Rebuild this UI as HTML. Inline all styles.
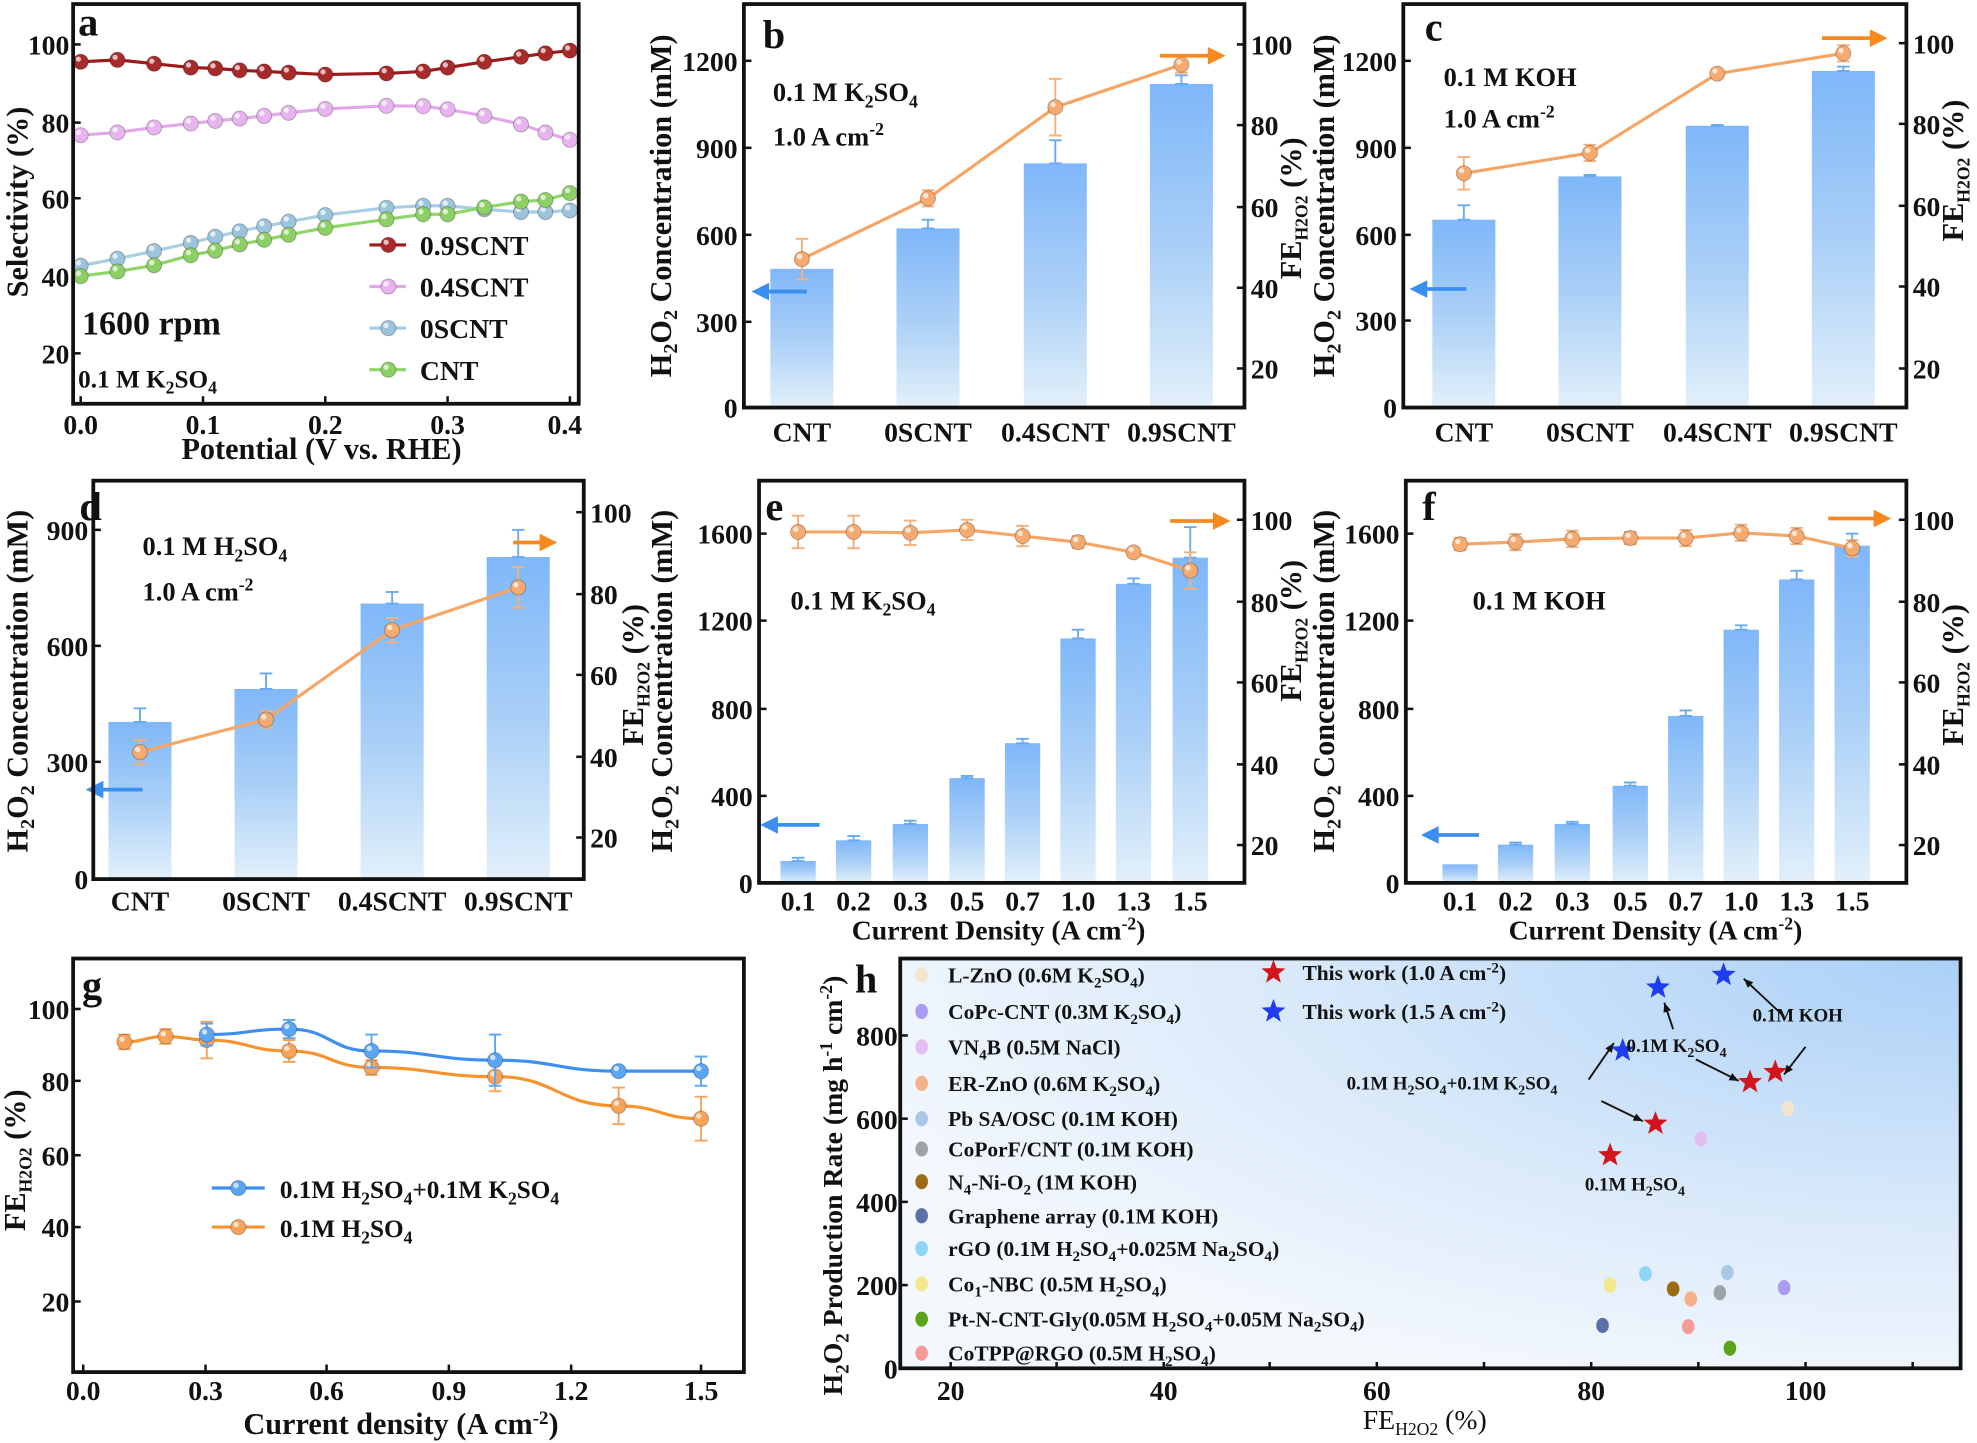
<!DOCTYPE html>
<html><head><meta charset="utf-8"><style>
html,body{margin:0;padding:0;background:#fff}
svg{display:block}
text{font-family:"Liberation Serif",serif;font-weight:bold;fill:#111}
.t{font-size:22px}
.ti{font-size:24px}
.h{font-weight:normal;font-size:17px}
</style></head><body>
<svg id="s" width="1977" height="1443" viewBox="0 0 1568 1144" xmlns="http://www.w3.org/2000/svg">
<defs>
<linearGradient id="bar" x1="0" y1="0" x2="0" y2="1"><stop offset="0" stop-color="#7fb7f9"/><stop offset="0.5" stop-color="#a9cff7"/><stop offset="1" stop-color="#e2f0fa"/></linearGradient>
<radialGradient id="hbg" cx="1" cy="0" r="1.1"><stop offset="0" stop-color="#aad0f7"/><stop offset="0.6" stop-color="#dbeafa"/><stop offset="1" stop-color="#f3f8fd"/></radialGradient>
</defs>
<rect x="714" y="760" width="841" height="325" fill="url(#hbg)"/>
<g id="d"></g>
<g fill="none" stroke="#111" stroke-width="3">
<rect x="58" y="3" width="401" height="317"/>
<rect x="590" y="3" width="397" height="320"/>
<rect x="1113" y="3" width="399" height="320"/>
<rect x="74" y="381" width="389" height="316"/>
<rect x="602" y="381" width="385" height="319"/>
<rect x="1115" y="381" width="397" height="319"/>
<rect x="58" y="760" width="532" height="328"/>
<rect x="714" y="760" width="841" height="325"/>
</g>
<!-- panel a -->
<text x="62" y="28" style="font-size:32px">a</text>
<g class="t" text-anchor="end"><text x="55" y="43">100</text><text x="55" y="105">80</text><text x="55" y="165">60</text><text x="55" y="227">40</text><text x="55" y="288">20</text></g>
<g class="t" text-anchor="middle"><text x="64" y="344">0.0</text><text x="161" y="344">0.1</text><text x="258" y="344">0.2</text><text x="355" y="344">0.3</text><text x="448" y="344">0.4</text></g>
<text class="ti" x="255" y="364" text-anchor="middle">Potential (V vs. RHE)</text>
<text class="ti" transform="translate(22,160) rotate(-90)" text-anchor="middle">Selectivity (%)</text>
<text x="65" y="265" style="font-size:27px">1600 rpm</text>
<text x="62" y="307" style="font-size:20px">0.1 M K<tspan dy="5" font-size="14">2</tspan><tspan dy="-5">SO</tspan><tspan dy="5" font-size="14">4</tspan></text>
<g class="t"><text x="333" y="202">0.9SCNT</text><text x="333" y="235">0.4SCNT</text><text x="333" y="268">0SCNT</text><text x="333" y="301">CNT</text></g>
<!-- panel b -->
<text x="605" y="38" style="font-size:32px">b</text>
<g class="t" text-anchor="end"><text x="585" y="331">0</text><text x="585" y="263">300</text><text x="585" y="194">600</text><text x="585" y="125">900</text><text x="585" y="56">1200</text></g>
<g class="t"><text x="992" y="300">20</text><text x="992" y="236">40</text><text x="992" y="172">60</text><text x="992" y="107">80</text><text x="992" y="43">100</text></g>
<g class="t" text-anchor="middle"><text x="636" y="350">CNT</text><text x="736" y="350">0SCNT</text><text x="837" y="350">0.4SCNT</text><text x="937" y="350">0.9SCNT</text></g>
<text x="613" y="80" style="font-size:21px">0.1 M K<tspan dy="5" font-size="14">2</tspan><tspan dy="-5">SO</tspan><tspan dy="5" font-size="14">4</tspan></text>
<text x="613" y="115" style="font-size:21px">1.0 A cm<tspan dy="-8" font-size="14">-2</tspan></text>
<text class="ti" transform="translate(532,163) rotate(-90)" text-anchor="middle">H<tspan dy="5" font-size="16">2</tspan><tspan dy="-5">O</tspan><tspan dy="5" font-size="16">2</tspan><tspan dy="-5"> Concentration (mM)</tspan></text>
<text class="ti" transform="translate(1032,165) rotate(-90)" text-anchor="middle">FE<tspan dy="5" font-size="14">H2O2</tspan><tspan dy="-5"> (%)</tspan></text>
<!-- panel c -->
<text x="1130" y="32" style="font-size:32px">c</text>
<g class="t" text-anchor="end"><text x="1108" y="331">0</text><text x="1108" y="262">300</text><text x="1108" y="194">600</text><text x="1108" y="125">900</text><text x="1108" y="56">1200</text></g>
<g class="t"><text x="1517" y="300">20</text><text x="1517" y="235">40</text><text x="1517" y="171">60</text><text x="1517" y="106">80</text><text x="1517" y="42">100</text></g>
<g class="t" text-anchor="middle"><text x="1161" y="350">CNT</text><text x="1261" y="350">0SCNT</text><text x="1362" y="350">0.4SCNT</text><text x="1462" y="350">0.9SCNT</text></g>
<text x="1145" y="68" style="font-size:21px">0.1 M KOH</text>
<text x="1145" y="101" style="font-size:21px">1.0 A cm<tspan dy="-8" font-size="14">-2</tspan></text>
<text class="ti" transform="translate(1058,163) rotate(-90)" text-anchor="middle">H<tspan dy="5" font-size="16">2</tspan><tspan dy="-5">O</tspan><tspan dy="5" font-size="16">2</tspan><tspan dy="-5"> Concentration (mM)</tspan></text>
<text class="ti" transform="translate(1557,135) rotate(-90)" text-anchor="middle">FE<tspan dy="5" font-size="14">H2O2</tspan><tspan dy="-5"> (%)</tspan></text>
<!-- panel d -->
<text x="63" y="412" style="font-size:32px">d</text>
<g class="t" text-anchor="end"><text x="70" y="705">0</text><text x="70" y="612">300</text><text x="70" y="520">600</text><text x="70" y="428">900</text></g>
<g class="t"><text x="468" y="672">20</text><text x="468" y="608">40</text><text x="468" y="543">60</text><text x="468" y="479">80</text><text x="468" y="414">100</text></g>
<g class="t" text-anchor="middle"><text x="111" y="722">CNT</text><text x="211" y="722">0SCNT</text><text x="311" y="722">0.4SCNT</text><text x="411" y="722">0.9SCNT</text></g>
<text x="113" y="440" style="font-size:21px">0.1 M H<tspan dy="5" font-size="14">2</tspan><tspan dy="-5">SO</tspan><tspan dy="5" font-size="14">4</tspan></text>
<text x="113" y="476" style="font-size:21px">1.0 A cm<tspan dy="-8" font-size="14">-2</tspan></text>
<text class="ti" transform="translate(22,540) rotate(-90)" text-anchor="middle">H<tspan dy="5" font-size="16">2</tspan><tspan dy="-5">O</tspan><tspan dy="5" font-size="16">2</tspan><tspan dy="-5"> Concentration (mM)</tspan></text>
<text class="ti" transform="translate(510,535) rotate(-90)" text-anchor="middle">FE<tspan dy="5" font-size="14">H2O2</tspan><tspan dy="-5"> (%)</tspan></text>
<!-- panel e -->
<text x="607" y="412" style="font-size:32px">e</text>
<g class="t" text-anchor="end"><text x="597" y="708">0</text><text x="597" y="639">400</text><text x="597" y="570">800</text><text x="597" y="500">1200</text><text x="597" y="431">1600</text></g>
<g class="t"><text x="992" y="678">20</text><text x="992" y="614">40</text><text x="992" y="549">60</text><text x="992" y="485">80</text><text x="992" y="420">100</text></g>
<g class="t" text-anchor="middle"><text x="633" y="722">0.1</text><text x="677" y="722">0.2</text><text x="722" y="722">0.3</text><text x="767" y="722">0.5</text><text x="811" y="722">0.7</text><text x="855" y="722">1.0</text><text x="899" y="722">1.3</text><text x="944" y="722">1.5</text></g>
<text class="ti" x="792" y="745" text-anchor="middle" style="font-size:22px">Current Density (A cm<tspan dy="-8" font-size="14">-2</tspan><tspan dy="8">)</tspan></text>
<text x="627" y="483" style="font-size:21px">0.1 M K<tspan dy="5" font-size="14">2</tspan><tspan dy="-5">SO</tspan><tspan dy="5" font-size="14">4</tspan></text>
<text class="ti" transform="translate(533,540) rotate(-90)" text-anchor="middle">H<tspan dy="5" font-size="16">2</tspan><tspan dy="-5">O</tspan><tspan dy="5" font-size="16">2</tspan><tspan dy="-5"> Concentration (mM)</tspan></text>
<text class="ti" transform="translate(1032,500) rotate(-90)" text-anchor="middle">FE<tspan dy="5" font-size="14">H2O2</tspan><tspan dy="-5"> (%)</tspan></text>
<!-- panel f -->
<text x="1128" y="412" style="font-size:32px">f</text>
<g class="t" text-anchor="end"><text x="1110" y="708">0</text><text x="1110" y="639">400</text><text x="1110" y="570">800</text><text x="1110" y="500">1200</text><text x="1110" y="431">1600</text></g>
<g class="t"><text x="1517" y="678">20</text><text x="1517" y="614">40</text><text x="1517" y="549">60</text><text x="1517" y="485">80</text><text x="1517" y="420">100</text></g>
<g class="t" text-anchor="middle"><text x="1158" y="722">0.1</text><text x="1202" y="722">0.2</text><text x="1247" y="722">0.3</text><text x="1293" y="722">0.5</text><text x="1337" y="722">0.7</text><text x="1381" y="722">1.0</text><text x="1425" y="722">1.3</text><text x="1469" y="722">1.5</text></g>
<text class="ti" x="1313" y="745" text-anchor="middle" style="font-size:22px">Current Density (A cm<tspan dy="-8" font-size="14">-2</tspan><tspan dy="8">)</tspan></text>
<text x="1168" y="483" style="font-size:21px">0.1 M KOH</text>
<text class="ti" transform="translate(1058,540) rotate(-90)" text-anchor="middle">H<tspan dy="5" font-size="16">2</tspan><tspan dy="-5">O</tspan><tspan dy="5" font-size="16">2</tspan><tspan dy="-5"> Concentration (mM)</tspan></text>
<text class="ti" transform="translate(1557,535) rotate(-90)" text-anchor="middle">FE<tspan dy="5" font-size="14">H2O2</tspan><tspan dy="-5"> (%)</tspan></text>
<!-- panel g -->
<text x="65" y="792" style="font-size:32px">g</text>
<g class="t" text-anchor="end"><text x="55" y="1040">20</text><text x="55" y="981">40</text><text x="55" y="924">60</text><text x="55" y="865">80</text><text x="55" y="808">100</text></g>
<g class="t" text-anchor="middle" style="font-weight:normal"><text x="66" y="1110">0.0</text><text x="163" y="1110">0.3</text><text x="259" y="1110">0.6</text><text x="356" y="1110">0.9</text><text x="453" y="1110">1.2</text><text x="556" y="1110">1.5</text></g>
<text class="ti" x="318" y="1137" text-anchor="middle">Current density (A cm<tspan dy="-8" font-size="15">-2</tspan><tspan dy="8">)</tspan></text>
<text class="ti" transform="translate(20,920) rotate(-90)" text-anchor="middle">FE<tspan dy="5" font-size="14">H2O2</tspan><tspan dy="-5"> (%)</tspan></text>
<text x="222" y="950" style="font-size:20px">0.1M H<tspan dy="5" font-size="14">2</tspan><tspan dy="-5">SO</tspan><tspan dy="5" font-size="14">4</tspan><tspan dy="-5">+0.1M K</tspan><tspan dy="5" font-size="14">2</tspan><tspan dy="-5">SO</tspan><tspan dy="5" font-size="14">4</tspan></text>
<text x="222" y="981" style="font-size:20px">0.1M H<tspan dy="5" font-size="14">2</tspan><tspan dy="-5">SO</tspan><tspan dy="5" font-size="14">4</tspan></text>
<!-- panel h -->
<text x="678" y="787" style="font-size:32px">h</text>
<g class="t" text-anchor="end"><text x="712" y="1093">0</text><text x="712" y="1027">200</text><text x="712" y="961">400</text><text x="712" y="895">600</text><text x="712" y="829">800</text></g>
<g class="t" text-anchor="middle" style="font-weight:normal"><text x="754" y="1110">20</text><text x="923" y="1110">40</text><text x="1092" y="1110">60</text><text x="1262" y="1110">80</text><text x="1432" y="1110">100</text></g>
<text class="ti" x="1130" y="1133" text-anchor="middle" style="font-weight:normal;font-size:22px">FE<tspan dy="5" font-size="14">H2O2</tspan><tspan dy="-5"> (%)</tspan></text>
<text class="ti" transform="translate(668,940) rotate(-90)" text-anchor="middle" style="font-size:22px">H<tspan dy="5" font-size="15">2</tspan><tspan dy="-5">O</tspan><tspan dy="5" font-size="15">2</tspan><tspan dy="-5"> Production Rate (mg h</tspan><tspan dy="-8" font-size="14">-1</tspan><tspan dy="8"> cm</tspan><tspan dy="-8" font-size="14">-2</tspan><tspan dy="8">)</tspan></text>
<g class="h">
<text x="752" y="779">L-ZnO (0.6M K<tspan dy="4" font-size="12">2</tspan><tspan dy="-4">SO</tspan><tspan dy="4" font-size="12">4</tspan><tspan dy="-4">)</tspan></text>
<text x="752" y="808">CoPc-CNT (0.3M K<tspan dy="4" font-size="12">2</tspan><tspan dy="-4">SO</tspan><tspan dy="4" font-size="12">4</tspan><tspan dy="-4">)</tspan></text>
<text x="752" y="836">VN<tspan dy="4" font-size="12">4</tspan><tspan dy="-4">B (0.5M NaCl)</tspan></text>
<text x="752" y="865">ER-ZnO (0.6M K<tspan dy="4" font-size="12">2</tspan><tspan dy="-4">SO</tspan><tspan dy="4" font-size="12">4</tspan><tspan dy="-4">)</tspan></text>
<text x="752" y="893">Pb SA/OSC (0.1M KOH)</text>
<text x="752" y="917">CoPorF/CNT (0.1M KOH)</text>
<text x="752" y="943">N<tspan dy="4" font-size="12">4</tspan><tspan dy="-4">-Ni-O</tspan><tspan dy="4" font-size="12">2</tspan><tspan dy="-4"> (1M KOH)</tspan></text>
<text x="752" y="970">Graphene array (0.1M KOH)</text>
<text x="752" y="996">rGO (0.1M H<tspan dy="4" font-size="12">2</tspan><tspan dy="-4">SO</tspan><tspan dy="4" font-size="12">4</tspan><tspan dy="-4">+0.025M Na</tspan><tspan dy="4" font-size="12">2</tspan><tspan dy="-4">SO</tspan><tspan dy="4" font-size="12">4</tspan><tspan dy="-4">)</tspan></text>
<text x="752" y="1024">Co<tspan dy="4" font-size="12">1</tspan><tspan dy="-4">-NBC (0.5M H</tspan><tspan dy="4" font-size="12">2</tspan><tspan dy="-4">SO</tspan><tspan dy="4" font-size="12">4</tspan><tspan dy="-4">)</tspan></text>
<text x="752" y="1052">Pt-N-CNT-Gly(0.05M H<tspan dy="4" font-size="12">2</tspan><tspan dy="-4">SO</tspan><tspan dy="4" font-size="12">4</tspan><tspan dy="-4">+0.05M Na</tspan><tspan dy="4" font-size="12">2</tspan><tspan dy="-4">SO</tspan><tspan dy="4" font-size="12">4</tspan><tspan dy="-4">)</tspan></text>
<text x="752" y="1079">CoTPP@RGO (0.5M H<tspan dy="4" font-size="12">2</tspan><tspan dy="-4">SO</tspan><tspan dy="4" font-size="12">4</tspan><tspan dy="-4">)</tspan></text>
<text x="1033" y="777">This work (1.0 A cm<tspan dy="-6" font-size="12">-2</tspan><tspan dy="6">)</tspan></text>
<text x="1033" y="808">This work (1.5 A cm<tspan dy="-6" font-size="12">-2</tspan><tspan dy="6">)</tspan></text>
<text x="1390" y="810" style="font-size:15px">0.1M KOH</text>
<text x="1290" y="834" style="font-size:15px">0.1M K<tspan dy="4" font-size="11">2</tspan><tspan dy="-4">SO</tspan><tspan dy="4" font-size="11">4</tspan></text>
<text x="1068" y="864" style="font-size:15px">0.1M H<tspan dy="4" font-size="11">2</tspan><tspan dy="-4">SO</tspan><tspan dy="4" font-size="11">4</tspan><tspan dy="-4">+0.1M K</tspan><tspan dy="4" font-size="11">2</tspan><tspan dy="-4">SO</tspan><tspan dy="4" font-size="11">4</tspan></text>
<text x="1257" y="944" style="font-size:15px">0.1M H<tspan dy="4" font-size="11">2</tspan><tspan dy="-4">SO</tspan><tspan dy="4" font-size="11">4</tspan></text>
</g>
</svg>
<script>
const ns="http://www.w3.org/2000/svg",G=document.getElementById('d');
function E(t,a,p){const e=document.createElementNS(ns,t);for(const k in a)e.setAttribute(k,a[k]);(p||G).appendChild(e);return e;}
function L(d0,d1,p0,p1){return v=>p0+(v-d0)*(p1-p0)/(d1-d0);}
function dot(x,y,c,r){r=r||6;E('circle',{cx:x,cy:y,r:r,fill:c,stroke:'rgba(0,0,0,0.25)','stroke-width':0.8});E('circle',{cx:x-r*0.3,cy:y-r*0.35,r:r*0.35,fill:'rgba(255,255,255,0.7)'});}
function pl(pts,c,w){E('polyline',{points:pts.map(p=>p.join(',')).join(' '),fill:'none',stroke:c,'stroke-width':w||2.5});}
function err(x,y1,y2,c,cw){E('line',{x1:x,y1:y1,x2:x,y2:y2,stroke:c,'stroke-width':1.5});E('line',{x1:x-cw,y1:y1,x2:x+cw,y2:y1,stroke:c,'stroke-width':1.5});E('line',{x1:x-cw,y1:y2,x2:x+cw,y2:y2,stroke:c,'stroke-width':1.5});}
function arrow(x1,x2,y,c){const d=x2>x1?1:-1;E('line',{x1:x1,y1:y,x2:x2-d*12,y2:y,stroke:c,'stroke-width':3});E('polygon',{points:`${x2},${y} ${x2-d*14},${y-7} ${x2-d*14},${y+7}`,fill:c});}
function ticksY(x,ys,d){ys.forEach(y=>E('line',{x1:x,y1:y,x2:x+d,y2:y,stroke:'#111','stroke-width':2}));}
function ticksX(y,xs,d){xs.forEach(x=>E('line',{x1:x,y1:y,x2:x,y2:y+d,stroke:'#111','stroke-width':2}));}
(function(){const X=L(0,0.4,64,452),Y=L(100,20,35,280);
const xs=[0,.03,.06,.09,.11,.13,.15,.17,.2,.25,.28,.3,.33,.36,.38,.4];
const S=[[[95.5,96,95,94,93.8,93.3,93,92.7,92.2,92.5,93,94,95.5,96.8,97.7,98.4],'#9a1c1c','#a82a2a'],
[[76.5,77.2,78.5,79.5,80.2,80.8,81.5,82.3,83.3,84.1,84,83.2,81.5,79.3,77.2,75.3],'#e2a8ea','#e8b4ef'],
[[42.7,44.5,46.5,48.6,50.2,51.6,52.9,54.1,55.8,57.7,58.2,58.2,57.3,56.6,56.6,57],'#a9cde3','#9cc4dc'],
[[40,41.2,42.8,45.4,46.6,48.2,49.4,50.7,52.5,54.7,56,56,57.8,59.3,59.7,61.5],'#8fd46a','#8cd065']];
ticksY(58,[35,97,157,219,280],6);ticksX(320,[64,161,258,355,452],-6);
S.forEach(s=>{pl(xs.map((x,i)=>[X(x),Y(s[0][i])]),s[1],2.5);xs.forEach((x,i)=>dot(X(x),Y(s[0][i]),s[2]));});
[194,227,260,293].forEach((y,i)=>{E('line',{x1:293,y1:y,x2:322,y2:y,stroke:S[i][1],'stroke-width':2.5});dot(308,y,S[i][2]);});
})();
function bars(c){const Y=L(0,c.lmax,c.y0,c.ly),R=L(c.r0v,c.r1v,c.r0y,c.r1y);
c.x.forEach((x,i)=>{const v=c.v[i];E('rect',{x:x-c.w/2,y:Y(v),width:c.w,height:c.y0-Y(v),fill:'url(#bar)'});if(c.e[i]>v)err(x,Y(c.e[i]),Y(v),'#6aaaf0',5);});
c.x.forEach((x,i)=>err(x,R(c.fe[i]+c.fer[i]),R(c.fe[i]-c.fer[i]),'#f5b07a',5));
pl(c.x.map((x,i)=>[x,R(c.fe[i])]),'#f7a565',2.5);c.x.forEach((x,i)=>dot(x,R(c.fe[i]),'#f6aa70',6));
arrow(c.ba[0],c.ba[1],c.ba[2],'#3a8ff0');arrow(c.oa[0],c.oa[1],c.oa[2],'#f7891e');
ticksY(c.lx,c.lt,6);ticksY(c.rx,c.rt,-6);}
bars({x:[636,736,837,937],w:50,y0:323,lmax:1200,ly:48,v:[480,620,845,1120],e:[480,650,925,1150],r0v:100,r1v:20,r0y:35,r1y:292,fe:[47,62,84.5,95],fer:[5,2,7,2],ba:[640,596,231],oa:[920,972,44],lx:590,lt:[255,186,117,48],rx:987,rt:[35,99,164,228,292]});
bars({x:[1161,1261,1362,1462],w:50,y0:323,lmax:1200,ly:48,v:[650,800,975,1165],e:[700,805,978,1180],r0v:100,r1v:20,r0y:34,r1y:292,fe:[68,73,92.5,97.5],fer:[4,2,1,2],ba:[1163,1118,229],oa:[1445,1497,30],lx:1113,lt:[254,186,117,48],rx:1512,rt:[34,98,163,227,292]});
bars({x:[111,211,311,411],w:50,y0:697,lmax:900,ly:420,v:[405,490,710,830],e:[440,530,740,900],r0v:100,r1v:20,r0y:406,r1y:664,fe:[41,49,71,81.5],fer:[3,2,3,5],ba:[113,68,626],oa:[407,442,430],lx:74,lt:[604,512,420],rx:463,rt:[406,471,535,600,664]});
bars({x:[633,677,722,767,811,855,899,944],w:28,y0:700,lmax:1600,ly:423,v:[100,195,270,480,640,1120,1370,1490],e:[115,215,285,490,660,1160,1395,1630],r0v:100,r1v:20,r0y:412,r1y:670,fe:[97,97,96.8,97.5,96,94.5,92,87.5],fer:[4,4,3,2.5,2.5,1.5,1,4.5],ba:[650,603,654],oa:[928,976,413],lx:602,lt:[631,562,492,423],rx:987,rt:[412,477,541,606,670]});
bars({x:[1158,1202,1247,1293,1337,1381,1425,1469],w:28,y0:700,lmax:1600,ly:423,v:[85,175,270,445,765,1160,1390,1545],e:[85,185,280,460,790,1180,1430,1600],r0v:100,r1v:20,r0y:412,r1y:670,fe:[94,94.5,95.3,95.5,95.5,96.8,96,93],fer:[1.5,2,2,1.5,2,2,2,2],ba:[1173,1127,662],oa:[1450,1500,411],lx:1115,lt:[631,562,492,423],rx:1512,rt:[412,477,541,606,670]});
(function(){const X=L(0,1.5,66,556),Y=L(100,20,800,1032);
ticksY(58,[800,857,916,973,1032],6);ticksX(1088,[66,163,259,356,453,556],-6);
const o=[[.1,91,2],[.2,92.5,2],[.3,91.5,5],[.5,88.5,3],[.7,84,2],[1,81.5,4],[1.3,73.5,5],[1.5,70,6]];
const b=[[.3,93,3],[.5,94.5,2.5],[.7,88.5,4.5],[1,86,7],[1.3,83,1],[1.5,83,4]];
function ser(d,c,m){d.forEach(p=>err(X(p[0]),Y(p[1]+p[2]),Y(p[1]-p[2]),c,5));
let s='M'+X(d[0][0])+','+Y(d[0][1]);for(let i=1;i<d.length;i++){const a=d[i-1],q=d[i];const mx=(X(a[0])+X(q[0]))/2;s+=` C${mx},${Y(a[1])} ${mx},${Y(q[1])} ${X(q[0])},${Y(q[1])}`;}
E('path',{d:s,fill:'none',stroke:m,'stroke-width':2.5});d.forEach(p=>dot(X(p[0]),Y(p[1]),c,6));}
ser(o,'#f7a35a','#f7932e');ser(b,'#5aa6f5','#3d8ff2');
E('line',{x1:168,y1:942,x2:210,y2:942,stroke:'#3d8ff2','stroke-width':2.5});dot(189,942,'#5aa6f5');
E('line',{x1:168,y1:973,x2:210,y2:973,stroke:'#f7932e','stroke-width':2.5});dot(189,973,'#f7a35a');
})();
(function(){ticksY(714,[1085,1019,953,887,821],6);ticksX(1085,[754,838,923,1007,1092,1177,1262,1347,1432,1517],-5);
const cols=['#f5e4cc','#a99cf2','#e4bdf3','#f7b08a','#a9c8e6','#9ea3a8','#9a6a14','#5c6fa8','#8fd3f7','#f2e88a','#5aa41c','#f79a98'];
[773,802,830,859,887,911,937,964,990,1018,1046,1073].forEach((y,i)=>E('ellipse',{cx:731,cy:y,rx:5,ry:6,fill:cols[i]}));
[[1418,879,0],[1349,903,2],[1415,1021,1],[1370,1009,4],[1305,1010,8],[1277,1019,9],[1327,1022,6],[1364,1025,5],[1341,1030,3],[1271,1051,7],[1339,1052,11],[1372,1069,10]].forEach(p=>E('ellipse',{cx:p[0],cy:p[1],rx:5,ry:6,fill:cols[p[2]]}));
function star(x,y,c,r){let s='';for(let i=0;i<10;i++){const a=-Math.PI/2+i*Math.PI/5,rr=i%2?r*0.42:r;s+=(x+rr*Math.cos(a))+','+(y+rr*Math.sin(a))+' ';}E('polygon',{points:s,fill:c});}
[[1277,916],[1313,891],[1388,858],[1408,850],[1010,771]].forEach(p=>star(p[0],p[1],'#d4141c',10));
[[1287,833],[1315,783],[1367,773],[1010,802]].forEach(p=>star(p[0],p[1],'#1f3cf0',10));
function ar(x1,y1,x2,y2){E('line',{x1:x1,y1:y1,x2:x2,y2:y2,stroke:'#111','stroke-width':1.5});const a=Math.atan2(y2-y1,x2-x1),h=8;E('polygon',{points:`${x2},${y2} ${x2-h*Math.cos(a-0.4)},${y2-h*Math.sin(a-0.4)} ${x2-h*Math.cos(a+0.4)},${y2-h*Math.sin(a+0.4)}`,fill:'#111'});}
ar(1415,806,1383,776);ar(1432,830,1415,852);ar(1327,816,1320,795);ar(1345,840,1379,857);ar(1260,856,1280,827);ar(1270,873,1303,889);
})();
</script>
</body></html>
